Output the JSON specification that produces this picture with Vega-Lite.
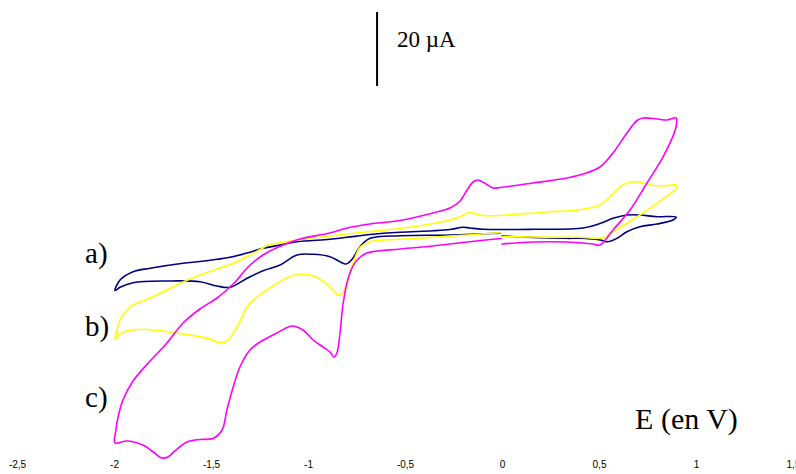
{
  "$schema": "https://vega.github.io/schema/vega-lite/v6.json",
  "autosize": {"type": "none"},
  "padding": {"left": 17, "right": 3, "top": 0, "bottom": 30},
  "width": 776,
  "height": 444,
  "background": "white",
  "config": {"view": {"stroke": null}},
  "datasets": {
    "cv": [
      {"s":"a","i":0,"E":0,"I":56.22},{"s":"a","i":1,"E":0.160,"I":55.81},{"s":"a","i":2,"E":0.335,"I":55.59},{"s":"a","i":3,"E":0.402,"I":55.59},{"s":"a","i":4,"E":0.505,"I":55.14},{"s":"a","i":5,"E":0.546,"I":54.68},{"s":"a","i":6,"E":0.593,"I":55.59},{"s":"a","i":7,"E":0.644,"I":57.38},{"s":"a","i":8,"E":0.711,"I":58.73},{"s":"a","i":9,"E":0.799,"I":59.46},{"s":"a","i":10,"E":0.881,"I":60.54},{"s":"a","i":11,"E":0.897,"I":61.35},{"s":"a","i":12,"E":0.799,"I":61.43},{"s":"a","i":13,"E":0.711,"I":61.89},{"s":"a","i":14,"E":0.644,"I":61.89},{"s":"a","i":15,"E":0.572,"I":61.0},{"s":"a","i":16,"E":0.505,"I":59.59},{"s":"a","i":17,"E":0.418,"I":58.38},{"s":"a","i":18,"E":0.160,"I":58.03},{"s":"a","i":19,"E":-0.098,"I":58.03},{"s":"a","i":20,"E":-0.165,"I":58.38},{"s":"a","i":21,"E":-0.201,"I":58.57},{"s":"a","i":22,"E":-0.268,"I":57.97},{"s":"a","i":23,"E":-0.356,"I":57.62},{"s":"a","i":24,"E":-0.526,"I":57.22},{"s":"a","i":25,"E":-0.680,"I":56.62},{"s":"a","i":26,"E":-0.799,"I":55.86},{"s":"a","i":27,"E":-0.887,"I":55.32},{"s":"a","i":28,"E":-1.057,"I":54.68},{"s":"a","i":29,"E":-1.144,"I":53.78},{"s":"a","i":30,"E":-1.232,"I":52.89},{"s":"a","i":31,"E":-1.314,"I":51.62},{"s":"a","i":32,"E":-1.402,"I":50.46},{"s":"a","i":33,"E":-1.469,"I":49.92},{"s":"a","i":34,"E":-1.557,"I":49.32},{"s":"a","i":35,"E":-1.644,"I":48.84},{"s":"a","i":36,"E":-1.814,"I":47.49},{"s":"a","i":37,"E":-1.902,"I":46.57},{"s":"a","i":38,"E":-1.969,"I":44.32},{"s":"a","i":39,"E":-1.995,"I":41.49},{"s":"a","i":40,"E":-1.969,"I":42.35},{"s":"a","i":41,"E":-1.902,"I":43.59},{"s":"a","i":42,"E":-1.727,"I":44.05},{"s":"a","i":43,"E":-1.557,"I":43.86},{"s":"a","i":44,"E":-1.469,"I":42.70},{"s":"a","i":45,"E":-1.402,"I":42.35},{"s":"a","i":46,"E":-1.314,"I":44.78},{"s":"a","i":47,"E":-1.232,"I":46.84},{"s":"a","i":48,"E":-1.144,"I":48.38},{"s":"a","i":49,"E":-1.057,"I":51.08},{"s":"a","i":50,"E":-0.974,"I":51.27},{"s":"a","i":51,"E":-0.887,"I":50.62},{"s":"a","i":52,"E":-0.835,"I":49.27},{"s":"a","i":53,"E":-0.804,"I":48.65},{"s":"a","i":54,"E":-0.773,"I":49.92},{"s":"a","i":55,"E":-0.732,"I":53.32},{"s":"a","i":56,"E":-0.680,"I":55.59},{"s":"a","i":57,"E":-0.526,"I":56.30},{"s":"a","i":58,"E":-0.268,"I":56.49},{"s":"a","i":59,"E":-0.010,"I":56.95},

      {"s":"b","i":0,"E":0,"I":56.03},{"s":"b","i":1,"E":0.160,"I":55.95},{"s":"b","i":2,"E":0.335,"I":55.86},{"s":"b","i":3,"E":0.402,"I":55.86},{"s":"b","i":4,"E":0.490,"I":55.59},{"s":"b","i":5,"E":0.531,"I":55.86},{"s":"b","i":6,"E":0.572,"I":57.38},{"s":"b","i":7,"E":0.644,"I":59.65},{"s":"b","i":8,"E":0.711,"I":61.89},{"s":"b","i":9,"E":0.799,"I":65.05},{"s":"b","i":10,"E":0.881,"I":68.19},{"s":"b","i":11,"E":0.897,"I":68.92},{"s":"b","i":12,"E":0.897,"I":70.0},{"s":"b","i":13,"E":0.830,"I":69.73},{"s":"b","i":14,"E":0.763,"I":70.0},{"s":"b","i":15,"E":0.727,"I":70.62},{"s":"b","i":16,"E":0.691,"I":70.89},{"s":"b","i":17,"E":0.644,"I":70.54},{"s":"b","i":18,"E":0.608,"I":69.46},{"s":"b","i":19,"E":0.557,"I":66.89},{"s":"b","i":20,"E":0.505,"I":64.59},{"s":"b","i":21,"E":0.469,"I":63.97},{"s":"b","i":22,"E":0.418,"I":63.43},{"s":"b","i":23,"E":0.335,"I":62.97},{"s":"b","i":24,"E":0.247,"I":62.78},{"s":"b","i":25,"E":0.160,"I":62.35},{"s":"b","i":26,"E":0.077,"I":62.16},{"s":"b","i":27,"E":-0.010,"I":61.76},{"s":"b","i":28,"E":-0.098,"I":61.76},{"s":"b","i":29,"E":-0.134,"I":62.16},{"s":"b","i":30,"E":-0.160,"I":62.57},{"s":"b","i":31,"E":-0.180,"I":62.35},{"s":"b","i":32,"E":-0.232,"I":61.08},{"s":"b","i":33,"E":-0.356,"I":59.59},{"s":"b","i":34,"E":-0.526,"I":58.24},{"s":"b","i":35,"E":-0.716,"I":57.22},{"s":"b","i":36,"E":-0.887,"I":56.22},{"s":"b","i":37,"E":-1.057,"I":55.14},{"s":"b","i":38,"E":-1.211,"I":53.65},{"s":"b","i":39,"E":-1.232,"I":52.97},{"s":"b","i":40,"E":-1.314,"I":50.68},{"s":"b","i":41,"E":-1.387,"I":48.78},{"s":"b","i":42,"E":-1.469,"I":47.30},{"s":"b","i":43,"E":-1.557,"I":45.68},{"s":"b","i":44,"E":-1.644,"I":43.78},{"s":"b","i":45,"E":-1.727,"I":41.62},{"s":"b","i":46,"E":-1.814,"I":39.46},{"s":"b","i":47,"E":-1.902,"I":37.57},{"s":"b","i":48,"E":-1.943,"I":35.68},{"s":"b","i":49,"E":-1.969,"I":33.51},{"s":"b","i":50,"E":-1.985,"I":30.81},{"s":"b","i":51,"E":-1.995,"I":28.38},{"s":"b","i":52,"E":-1.969,"I":29.73},{"s":"b","i":53,"E":-1.933,"I":30.54},{"s":"b","i":54,"E":-1.851,"I":31.0},{"s":"b","i":55,"E":-1.727,"I":30.35},{"s":"b","i":56,"E":-1.644,"I":29.73},{"s":"b","i":57,"E":-1.521,"I":28.57},{"s":"b","i":58,"E":-1.454,"I":27.43},{"s":"b","i":59,"E":-1.418,"I":27.84},{"s":"b","i":60,"E":-1.366,"I":31.62},{"s":"b","i":61,"E":-1.314,"I":37.03},{"s":"b","i":62,"E":-1.263,"I":39.73},{"s":"b","i":63,"E":-1.180,"I":42.70},{"s":"b","i":64,"E":-1.108,"I":44.86},{"s":"b","i":65,"E":-1.041,"I":45.95},{"s":"b","i":66,"E":-0.974,"I":45.41},{"s":"b","i":67,"E":-0.923,"I":44.05},{"s":"b","i":68,"E":-0.881,"I":42.16},{"s":"b","i":69,"E":-0.845,"I":40.27},{"s":"b","i":70,"E":-0.825,"I":40.54},{"s":"b","i":71,"E":-0.799,"I":43.86},{"s":"b","i":72,"E":-0.768,"I":48.84},{"s":"b","i":73,"E":-0.732,"I":53.11},{"s":"b","i":74,"E":-0.680,"I":54.68},{"s":"b","i":75,"E":-0.526,"I":55.32},{"s":"b","i":76,"E":-0.356,"I":55.86},{"s":"b","i":77,"E":-0.180,"I":56.49},{"s":"b","i":78,"E":-0.010,"I":57.11},

      {"s":"c","i":0,"E":0,"I":54.05},{"s":"c","i":1,"E":0.160,"I":54.59},{"s":"c","i":2,"E":0.335,"I":54.59},{"s":"c","i":3,"E":0.469,"I":54.05},{"s":"c","i":4,"E":0.505,"I":53.78},{"s":"c","i":5,"E":0.572,"I":57.84},{"s":"c","i":6,"E":0.660,"I":63.24},{"s":"c","i":7,"E":0.747,"I":70.54},{"s":"c","i":8,"E":0.830,"I":77.57},{"s":"c","i":9,"E":0.897,"I":85.68},{"s":"c","i":10,"E":0.897,"I":88.11},{"s":"c","i":11,"E":0.851,"I":87.57},{"s":"c","i":12,"E":0.799,"I":87.84},{"s":"c","i":13,"E":0.727,"I":88.11},{"s":"c","i":14,"E":0.696,"I":87.43},{"s":"c","i":15,"E":0.644,"I":84.05},{"s":"c","i":16,"E":0.572,"I":78.65},{"s":"c","i":17,"E":0.505,"I":74.86},{"s":"c","i":18,"E":0.418,"I":72.97},{"s":"c","i":19,"E":0.335,"I":71.89},{"s":"c","i":20,"E":0.160,"I":70.54},{"s":"c","i":21,"E":-0.010,"I":69.32},{"s":"c","i":22,"E":-0.046,"I":69.19},{"s":"c","i":23,"E":-0.082,"I":70.27},{"s":"c","i":24,"E":-0.124,"I":71.35},{"s":"c","i":25,"E":-0.149,"I":70.81},{"s":"c","i":26,"E":-0.180,"I":68.65},{"s":"c","i":27,"E":-0.216,"I":65.68},{"s":"c","i":28,"E":-0.268,"I":63.78},{"s":"c","i":29,"E":-0.356,"I":62.43},{"s":"c","i":30,"E":-0.526,"I":60.41},{"s":"c","i":31,"E":-0.680,"I":59.46},{"s":"c","i":32,"E":-0.799,"I":58.38},{"s":"c","i":33,"E":-0.887,"I":57.03},{"s":"c","i":34,"E":-1.041,"I":55.41},{"s":"c","i":35,"E":-1.129,"I":53.78},{"s":"c","i":36,"E":-1.232,"I":51.08},{"s":"c","i":37,"E":-1.314,"I":47.57},{"s":"c","i":38,"E":-1.366,"I":44.32},{"s":"c","i":39,"E":-1.402,"I":42.43},{"s":"c","i":40,"E":-1.469,"I":39.46},{"s":"c","i":41,"E":-1.557,"I":36.49},{"s":"c","i":42,"E":-1.644,"I":32.70},{"s":"c","i":43,"E":-1.727,"I":27.30},{"s":"c","i":44,"E":-1.814,"I":22.43},{"s":"c","i":45,"E":-1.902,"I":17.03},{"s":"c","i":46,"E":-1.954,"I":11.89},{"s":"c","i":47,"E":-1.979,"I":7.30},{"s":"c","i":48,"E":-1.990,"I":3.78},{"s":"c","i":49,"E":-1.995,"I":0.27},{"s":"c","i":50,"E":-1.933,"I":0.81},{"s":"c","i":51,"E":-1.851,"I":-0.27},{"s":"c","i":52,"E":-1.804,"I":-1.89},{"s":"c","i":53,"E":-1.753,"I":-3.78},{"s":"c","i":54,"E":-1.722,"I":-3.51},{"s":"c","i":55,"E":-1.686,"I":-1.89},{"s":"c","i":56,"E":-1.624,"I":0.54},{"s":"c","i":57,"E":-1.557,"I":1.22},{"s":"c","i":58,"E":-1.490,"I":1.49},{"s":"c","i":59,"E":-1.443,"I":3.78},{"s":"c","i":60,"E":-1.418,"I":9.19},{"s":"c","i":61,"E":-1.387,"I":15.14},{"s":"c","i":62,"E":-1.351,"I":20.81},{"s":"c","i":63,"E":-1.299,"I":25.41},{"s":"c","i":64,"E":-1.247,"I":27.57},{"s":"c","i":65,"E":-1.160,"I":30.0},{"s":"c","i":66,"E":-1.082,"I":31.89},{"s":"c","i":67,"E":-1.026,"I":30.81},{"s":"c","i":68,"E":-0.974,"I":28.11},{"s":"c","i":69,"E":-0.923,"I":26.22},{"s":"c","i":70,"E":-0.887,"I":24.86},{"s":"c","i":71,"E":-0.866,"I":23.51},{"s":"c","i":72,"E":-0.851,"I":24.59},{"s":"c","i":73,"E":-0.835,"I":30.0},{"s":"c","i":74,"E":-0.820,"I":37.57},{"s":"c","i":75,"E":-0.799,"I":43.51},{"s":"c","i":76,"E":-0.773,"I":47.57},{"s":"c","i":77,"E":-0.747,"I":49.73},{"s":"c","i":78,"E":-0.696,"I":51.62},{"s":"c","i":79,"E":-0.526,"I":52.70},{"s":"c","i":80,"E":-0.356,"I":53.51},{"s":"c","i":81,"E":-0.180,"I":54.59},{"s":"c","i":82,"E":-0.005,"I":55.54}
    ],
    "bar": [{"E": -0.644, "I1": 96.76, "I2": 116.76}],
    "unit": [{"E": -0.541, "I": 107.4, "t": "20 µA"}],
    "tags": [{"E": -2.149, "I": 48.92, "t": "a)"}, {"E": -2.149, "I": 29.19, "t": "b)"}, {"E": -2.149, "I": 10.08, "t": "c)"}],
    "xlab": [{"E": 0.686, "I": 3.97, "t": "E (en V)"}]
  },
  "layer": [
    {
      "data": {"name": "cv"},
      "mark": {"type": "line", "strokeWidth": 1.6, "strokeJoin": "round", "strokeCap": "round", "interpolate": "catmull-rom"},
      "encoding": {
        "x": {"field": "E", "type": "quantitative",
              "scale": {"domain": [-2.5, 1.5], "nice": false, "zero": false},
              "axis": {"title": null, "values": [-2.5, -2, -1.5, -1, -0.5, 0, 0.5, 1, 1.5],
                       "labelExpr": "replace(toString(datum.value), '.', ',')",
                       "grid": false, "domain": false, "ticks": false, "tickSize": 0,
                       "labelPadding": 15, "labelFont": "Liberation Sans", "labelFontSize": 10,
                       "labelColor": "#000000", "labelOverlap": false, "labelFlush": false, "labelBound": false}},
        "y": {"field": "I", "type": "quantitative",
              "scale": {"domain": [0, 120], "nice": false, "zero": false}, "axis": null},
        "color": {"field": "s", "type": "nominal",
                  "scale": {"domain": ["a", "b", "c"], "range": ["#000080", "#FFFF00", "#FF00FF"]},
                  "legend": null},
        "order": {"field": "i", "type": "quantitative"}
      }
    },
    {
      "data": {"name": "bar"},
      "mark": {"type": "rule", "strokeWidth": 2, "color": "#000000"},
      "encoding": {
        "x": {"field": "E", "type": "quantitative"},
        "y": {"field": "I1", "type": "quantitative"},
        "y2": {"field": "I2"}
      }
    },
    {
      "data": {"name": "unit"},
      "mark": {"type": "text", "font": "Liberation Serif", "fontSize": 23, "align": "left", "baseline": "alphabetic", "color": "#000000"},
      "encoding": {
        "x": {"field": "E", "type": "quantitative"},
        "y": {"field": "I", "type": "quantitative"},
        "text": {"field": "t"}
      }
    },
    {
      "data": {"name": "tags"},
      "mark": {"type": "text", "font": "Liberation Serif", "fontSize": 29, "align": "left", "baseline": "alphabetic", "color": "#000000"},
      "encoding": {
        "x": {"field": "E", "type": "quantitative"},
        "y": {"field": "I", "type": "quantitative"},
        "text": {"field": "t"}
      }
    },
    {
      "data": {"name": "xlab"},
      "mark": {"type": "text", "font": "Liberation Serif", "fontSize": 30, "align": "left", "baseline": "alphabetic", "color": "#000000"},
      "encoding": {
        "x": {"field": "E", "type": "quantitative"},
        "y": {"field": "I", "type": "quantitative"},
        "text": {"field": "t"}
      }
    }
  ]
}
